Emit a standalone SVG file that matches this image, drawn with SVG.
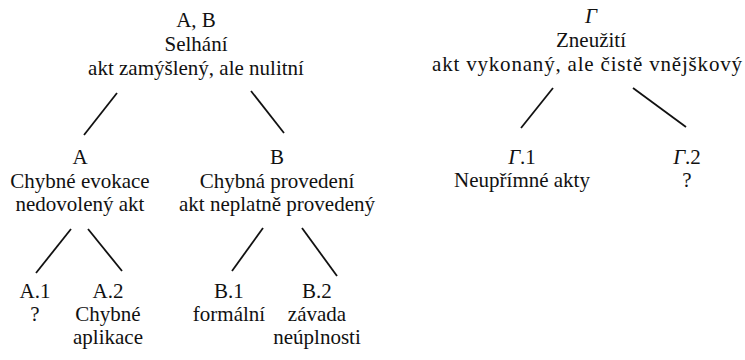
<svg xmlns="http://www.w3.org/2000/svg" width="745" height="360" viewBox="0 0 745 360">
<style>
text { font-family: "Liberation Serif", "Times New Roman", "DejaVu Serif", serif; font-size: 21px; fill: #111; text-anchor: middle; }
.it { font-style: italic; }
line { stroke: #111; stroke-width: 1.8; stroke-linecap: butt; }
</style>
<rect width="745" height="360" fill="#fff"/>
<g id="connectors">
<line x1="117" y1="93" x2="84" y2="135"/>
<line x1="251" y1="91" x2="284" y2="133"/>
<line x1="71" y1="229" x2="36" y2="273"/>
<line x1="88" y1="229" x2="122" y2="271"/>
<line x1="263" y1="228" x2="232" y2="271"/>
<line x1="302" y1="228" x2="337" y2="276"/>
<line x1="553" y1="88" x2="521" y2="128"/>
<line x1="633" y1="88" x2="686" y2="127"/>
</g>
<g id="node-AB">
<text x="196" y="27">A, B</text>
<text x="196" y="51">Selhání</text>
<text x="196" y="75">akt zamýšlený, ale nulitní</text>
</g>
<g id="node-A">
<text x="80" y="164">A</text>
<text x="80" y="188">Chybné evokace</text>
<text x="80" y="211">nedovolený akt</text>
</g>
<g id="node-B">
<text x="277" y="164">B</text>
<text x="277" y="188">Chybná provedení</text>
<text x="277" y="211">akt neplatně provedený</text>
</g>
<g id="node-A1">
<text x="35" y="298">A.1</text>
<text x="35" y="321">?</text>
</g>
<g id="node-A2">
<text x="108" y="298">A.2</text>
<text x="108" y="321">Chybné</text>
<text x="108" y="344">aplikace</text>
</g>
<g id="node-B1">
<text x="229" y="298">B.1</text>
<text x="229" y="321">formální</text>
</g>
<g id="node-B2">
<text x="317" y="298">B.2</text>
<text x="317" y="321">závada</text>
<text x="317" y="344">neúplnosti</text>
</g>
<g id="node-G">
<text x="591" y="23" class="it">Γ</text>
<text x="591" y="47">Zneužití</text>
<text x="587" y="71" textLength="310" lengthAdjust="spacing">akt vykonaný, ale čistě vnějškový</text>
</g>
<g id="node-G1">
<text x="522" y="164"><tspan class="it">Γ</tspan>.1</text>
<text x="522" y="187">Neupřímné akty</text>
</g>
<g id="node-G2">
<text x="687" y="164"><tspan class="it">Γ</tspan>.2</text>
<text x="687" y="187">?</text>
</g>
</svg>
